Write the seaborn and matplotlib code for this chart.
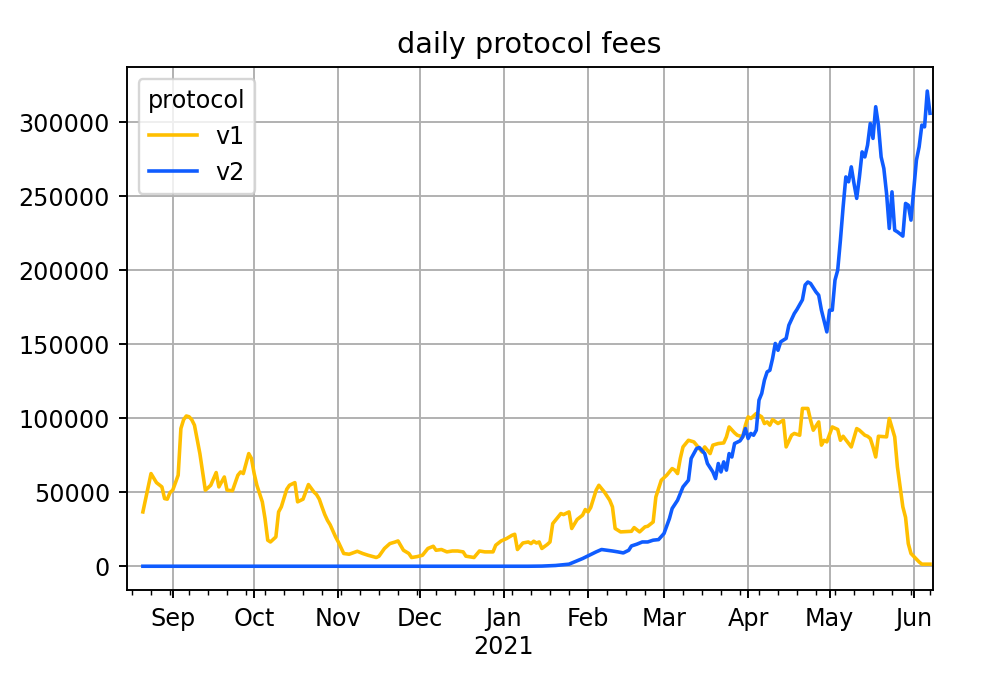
import matplotlib
matplotlib.use("Agg")
import matplotlib.pyplot as plt
import matplotlib.dates as mdates
from matplotlib.ticker import FuncFormatter
import pandas as pd
import seaborn as sns

v1_dates = [
    "2020-08-21", "2020-08-24", "2020-08-26", "2020-08-28", "2020-08-29", "2020-08-30", "2020-08-31",
    "2020-09-01", "2020-09-03", "2020-09-04", "2020-09-05", "2020-09-06", "2020-09-07", "2020-09-08",
    "2020-09-09", "2020-09-11", "2020-09-13", "2020-09-15", "2020-09-17", "2020-09-18", "2020-09-20",
    "2020-09-21", "2020-09-23", "2020-09-25", "2020-09-26", "2020-09-27", "2020-09-29", "2020-09-30",
    "2020-10-01", "2020-10-02", "2020-10-04", "2020-10-05", "2020-10-06", "2020-10-07", "2020-10-09",
    "2020-10-10", "2020-10-11", "2020-10-13", "2020-10-14", "2020-10-16", "2020-10-17", "2020-10-19",
    "2020-10-21", "2020-10-23", "2020-10-24", "2020-10-25", "2020-10-26", "2020-10-27", "2020-10-28",
    "2020-10-29", "2020-10-31", "2020-11-01", "2020-11-03", "2020-11-05", "2020-11-08", "2020-11-10",
    "2020-11-12", "2020-11-15", "2020-11-16", "2020-11-18", "2020-11-20", "2020-11-22", "2020-11-23",
    "2020-11-25", "2020-11-27", "2020-11-28", "2020-11-30", "2020-12-02", "2020-12-04", "2020-12-06",
    "2020-12-07", "2020-12-09", "2020-12-11", "2020-12-13", "2020-12-15", "2020-12-17", "2020-12-18",
    "2020-12-21", "2020-12-23", "2020-12-25", "2020-12-28", "2020-12-29", "2020-12-31", "2021-01-02",
    "2021-01-04", "2021-01-05", "2021-01-06", "2021-01-08", "2021-01-10", "2021-01-11", "2021-01-12",
    "2021-01-13", "2021-01-14", "2021-01-15", "2021-01-17", "2021-01-18", "2021-01-19", "2021-01-20",
    "2021-01-22", "2021-01-23", "2021-01-25", "2021-01-26", "2021-01-28", "2021-01-30", "2021-01-31",
    "2021-02-01", "2021-02-02", "2021-02-04", "2021-02-05", "2021-02-07", "2021-02-09", "2021-02-10",
    "2021-02-11", "2021-02-13", "2021-02-17", "2021-02-18", "2021-02-20", "2021-02-22", "2021-02-23",
    "2021-02-25", "2021-02-26", "2021-02-28", "2021-03-02", "2021-03-04", "2021-03-05", "2021-03-06",
    "2021-03-07", "2021-03-08", "2021-03-10", "2021-03-12", "2021-03-13", "2021-03-15", "2021-03-16",
    "2021-03-18", "2021-03-19", "2021-03-21", "2021-03-23", "2021-03-24", "2021-03-25", "2021-03-27",
    "2021-03-28", "2021-03-30", "2021-03-31", "2021-04-01", "2021-04-02", "2021-04-04", "2021-04-06",
    "2021-04-07", "2021-04-08", "2021-04-09", "2021-04-10", "2021-04-12", "2021-04-14", "2021-04-15",
    "2021-04-17", "2021-04-18", "2021-04-20", "2021-04-21", "2021-04-23", "2021-04-24", "2021-04-25",
    "2021-04-27", "2021-04-28", "2021-04-29", "2021-04-30", "2021-05-02", "2021-05-04", "2021-05-05",
    "2021-05-06", "2021-05-09", "2021-05-11", "2021-05-12", "2021-05-14", "2021-05-15", "2021-05-16",
    "2021-05-17", "2021-05-18", "2021-05-19", "2021-05-22", "2021-05-23", "2021-05-25", "2021-05-26",
    "2021-05-27", "2021-05-28", "2021-05-29", "2021-05-30", "2021-05-31", "2021-06-03", "2021-06-04",
    "2021-06-07",
]
v1_fees = [
    36700, 62600, 56500, 53600, 45700, 45300, 49800,
    51400, 61500, 93000, 99000, 101500, 101000, 99000,
    95300, 76100, 51400, 54700, 63300, 53600, 60300,
    51400, 51000, 61500, 63700, 62600, 76100, 72800,
    62600, 54700, 43500, 32200, 17600, 16400, 19800,
    36700, 40100, 52000, 54700, 56500, 43500, 45300,
    55200, 50200, 48400, 45300, 40000, 35000, 31000,
    28000, 19800, 16400, 8600, 8100, 10100, 8600,
    7400, 5900, 6800, 12000, 15300, 16400, 17100,
    10800, 8600, 5900, 6500, 7400, 12000, 13500,
    10800, 11300, 9700, 10300, 10300, 9700, 6800,
    5900, 10300, 9700, 9700, 14200, 17100, 18700,
    20900, 21600, 11300, 15700, 16400, 15300, 16900,
    15700, 16400, 12000, 14700, 16400, 28800, 31100,
    35600, 34900, 36700, 25500, 31600, 34500, 38300,
    36700, 39700, 51400, 54700, 50200, 44600, 40100,
    25500, 23200, 23600, 26100, 23200, 26600, 27000,
    29900, 46800, 58100, 61500, 66000, 64900, 62600,
    72800, 80600, 85100, 84000, 81800, 77200, 80600,
    76100, 81800, 82900, 83300, 87400, 94100, 90100,
    88500, 87400, 95300, 100900, 99800, 103200, 100900,
    96400, 97500, 95300, 99100, 96400, 98700, 80600,
    88500, 89700, 88500, 106600, 106600, 98700, 91900,
    97500, 81800, 85100, 84000, 94100, 92400, 85100,
    87800, 80600, 93000, 91900, 88500, 87800, 86300,
    80600, 73800, 87800, 87400, 99800, 87400, 67100,
    53600, 40100, 33000, 15300, 8600, 2900, 1400,
    1400,
]

v2_dates = [
    "2020-08-21", "2021-01-10", "2021-01-15", "2021-01-20", "2021-01-25", "2021-01-30", "2021-02-04",
    "2021-02-06", "2021-02-10", "2021-02-12", "2021-02-14", "2021-02-16", "2021-02-17", "2021-02-19",
    "2021-02-21", "2021-02-23", "2021-02-25", "2021-02-27", "2021-03-01", "2021-03-03", "2021-03-04",
    "2021-03-06", "2021-03-08", "2021-03-10", "2021-03-11", "2021-03-13", "2021-03-14", "2021-03-16",
    "2021-03-17", "2021-03-19", "2021-03-20", "2021-03-21", "2021-03-22", "2021-03-23", "2021-03-24",
    "2021-03-25", "2021-03-26", "2021-03-27", "2021-03-29", "2021-03-30", "2021-03-31", "2021-04-01",
    "2021-04-02", "2021-04-03", "2021-04-04", "2021-04-05", "2021-04-06", "2021-04-07", "2021-04-08",
    "2021-04-09", "2021-04-10", "2021-04-11", "2021-04-12", "2021-04-13", "2021-04-15", "2021-04-16",
    "2021-04-18", "2021-04-19", "2021-04-21", "2021-04-22", "2021-04-23", "2021-04-24", "2021-04-26",
    "2021-04-27", "2021-04-28", "2021-04-30", "2021-05-01", "2021-05-02", "2021-05-03", "2021-05-04",
    "2021-05-05", "2021-05-06", "2021-05-07", "2021-05-08", "2021-05-09", "2021-05-10", "2021-05-11",
    "2021-05-12", "2021-05-13", "2021-05-14", "2021-05-15", "2021-05-16", "2021-05-17", "2021-05-18",
    "2021-05-19", "2021-05-20", "2021-05-21", "2021-05-22", "2021-05-23", "2021-05-24", "2021-05-25",
    "2021-05-26", "2021-05-27", "2021-05-28", "2021-05-29", "2021-05-30", "2021-05-31", "2021-06-02",
    "2021-06-03", "2021-06-04", "2021-06-05", "2021-06-06", "2021-06-07",
]
v2_fees = [
    0, 0, 100, 500, 1400, 5200, 9700,
    11300, 10300, 9700, 9000, 10800, 13700, 14900,
    16400, 16400, 17600, 18000, 22100, 32200, 39000,
    44600, 53600, 58100, 72800, 79500, 80200, 76100,
    69400, 63700, 59200, 69400, 63700, 70500, 64900,
    76100, 73800, 82900, 84700, 87400, 93000, 86300,
    89700, 88500, 91900, 112200, 116700, 125700, 131300,
    132400, 140300, 150500, 145900, 151600, 153900, 162800,
    170700, 173500, 180000, 190000, 192000, 191000, 185300,
    183100, 173000, 158300, 173000, 173000, 193300, 200000,
    220300, 242800, 263000, 259700, 269800, 258600, 248500,
    263000, 279900, 276500, 284500, 299100, 289000, 310400,
    298000, 276500, 268700, 251800, 228200, 252900, 227000,
    225900, 224500, 223000, 245100, 243900, 233800, 274300,
    283300, 298000, 296800, 321000, 306000,
]

protocols = ["v1", "v2"]
colors = {"v1": "#ffbf00", "v2": "#0f5cff"}

df = pd.concat([
    pd.DataFrame({"date": pd.to_datetime(v1_dates), "fees": v1_fees, "protocol": "v1"}),
    pd.DataFrame({"date": pd.to_datetime(v2_dates), "fees": v2_fees, "protocol": "v2"}),
], ignore_index=True)

DPI = 172
fig = plt.figure(figsize=(990 / DPI, 673 / DPI), dpi=DPI)
ax = fig.add_axes([126.6 / 990, 1 - 590 / 673, (932.7 - 126.6) / 990, (590 - 67.3) / 673])

sns.lineplot(data=df, x="date", y="fees", hue="protocol", hue_order=protocols,
             palette=colors, estimator=None, linewidth=1.5, ax=ax)

ax.set_xlim(pd.Timestamp("2020-08-15"), pd.Timestamp("2021-06-08"))
ax.set_ylim(-16050, 337050)

ax.xaxis.set_major_locator(mdates.MonthLocator())
ax.xaxis.set_minor_locator(mdates.WeekdayLocator(byweekday=mdates.MO))


def month_fmt(x, pos=None):
    d = mdates.num2date(x)
    s = d.strftime("%b")
    if d.month == 1:
        s += "\n" + str(d.year)
    return s


ax.xaxis.set_major_formatter(FuncFormatter(month_fmt))
ax.grid(True, which="major", color="#b0b0b0", linewidth=0.8)
ax.set_axisbelow(True)
ax.set_xlabel("")
ax.set_ylabel("")
ax.set_title("daily protocol fees", fontsize=12)
sns.move_legend(ax, "upper left", title="protocol")

fig.savefig("out.png", dpi=DPI)
